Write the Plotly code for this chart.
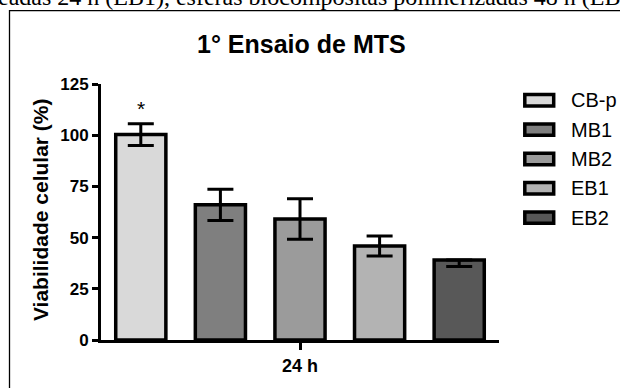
import plotly.graph_objects as go

categories = ["CB-p", "MB1", "MB2", "EB1", "EB2"]
values = [100.3, 66.0, 59.1, 45.9, 39.1]
err_plus = [5.3, 7.6, 9.9, 4.9, 0.0]
err_minus = [5.3, 7.6, 9.9, 4.9, 3.2]
colors = ["#d9d9d9", "#7f7f7f", "#9b9b9b", "#b3b3b3", "#585858"]
group_label = "24 h"
y_ticks = [0, 25, 50, 75, 100, 125]
title_text = "1° Ensaio de MTS"
y_title = "Viabilidade celular (%)"
caption_text = "eadas 24 h (EB1), esferas biocompósitas polimerizadas 48 h (EB2)"

W, H = 620, 388
ML, MR, MT, MB = 101, 121, 84, 44
PW, PH = W - ML - MR, H - MT - MB

def px(x):
    return (x - ML) / PW

def py(y):
    return (H - MB - y) / PH

SANS = "Liberation Sans, Arial, sans-serif"
xs = list(range(len(categories)))

fig = go.Figure()
fig.add_trace(go.Bar(
    x=xs, y=values, width=0.63,
    marker=dict(color=colors, line=dict(color="black", width=3.5)),
    error_y=dict(type="data", symmetric=False, array=err_plus, arrayminus=err_minus,
                 color="black", thickness=3, width=13),
    showlegend=False, hoverinfo="skip",
))

annotations = [
    dict(text="*", x=xs[0], y=values[0] + err_plus[0], xref="x", yref="y",
         yanchor="bottom", showarrow=False, yshift=2,
         font=dict(family=SANS, size=21, color="black")),
    dict(text=title_text, x=px(301), y=py(43.5), xref="paper", yref="paper",
         xanchor="center", yanchor="middle", showarrow=False,
         font=dict(family=SANS, size=25, color="black", weight="bold")),
    dict(text=y_title, x=px(40), y=py(212), xref="paper", yref="paper",
         xanchor="center", yanchor="middle", showarrow=False, textangle=-90,
         font=dict(family=SANS, size=21, color="black", weight="bold")),
    dict(text=caption_text, x=px(-4), y=py(10.5), xref="paper", yref="paper",
         xanchor="left", yanchor="bottom", showarrow=False,
         font=dict(family="Liberation Serif, Times New Roman, serif", size=24, color="black")),
]

shapes = [
    dict(type="path", xref="paper", yref="paper",
         path=f"M {px(9.5)},{py(400)} L {px(9.5)},{py(9.5)} L {px(630)},{py(9.5)}",
         line=dict(color="black", width=1.3)),
]

leg_y0, leg_dy = 100.5, 29.8
for i, (name, c) in enumerate(zip(categories, colors)):
    yc = leg_y0 + i * leg_dy
    shapes.append(dict(type="rect", xref="paper", yref="paper",
                       x0=px(524.8), x1=px(553.7), y0=py(yc - 5.8), y1=py(yc + 5.8),
                       fillcolor=c, line=dict(color="black", width=3.5)))
    annotations.append(dict(text=name, x=px(569), y=py(yc), xref="paper", yref="paper",
                            xanchor="left", yanchor="middle", showarrow=False,
                            font=dict(family=SANS, size=20, color="black")))

fig.update_layout(
    width=W, height=H,
    margin=dict(l=ML, r=MR, t=MT, b=MB, pad=0),
    paper_bgcolor="white", plot_bgcolor="white",
    annotations=annotations, shapes=shapes,
    xaxis=dict(range=[-0.5, len(categories) - 0.5], tickvals=[(len(categories) - 1) / 2],
               ticktext=[group_label], showline=True, linecolor="black", linewidth=3,
               ticks="outside", ticklen=7, tickwidth=3, tickcolor="black",
               showgrid=False, zeroline=False, fixedrange=True,
               tickfont=dict(family=SANS, size=18, color="black", weight="bold")),
    yaxis=dict(range=[0, 125], tickvals=y_ticks, showline=True, linecolor="black", linewidth=3,
               ticks="outside", ticklen=6, tickwidth=2.5, tickcolor="black",
               showgrid=False, zeroline=False, fixedrange=True,
               tickfont=dict(family=SANS, size=17, color="black", weight="bold")),
)

fig.write_html("out.html", config={"displayModeBar": False},
               post_script="document.body.style.margin='0';document.body.style.overflow='hidden';")
